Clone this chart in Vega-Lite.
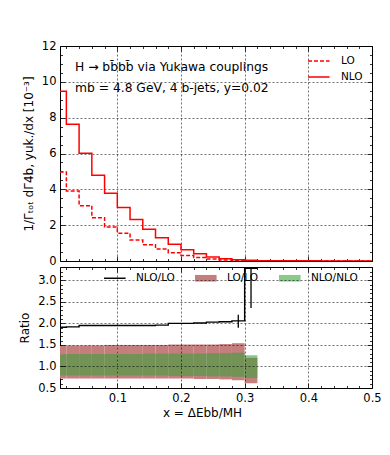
{
  "$schema": "https://vega.github.io/schema/vega-lite/v6.json",
  "padding": {"left": 18, "top": 39, "right": 12, "bottom": 5},
  "bounds": "flush",
  "resolve": {"legend": {"color": "independent", "strokeDash": "independent", "fill": "independent", "shape": "independent"}},
  "config": {
    "font": "DejaVu Sans",
    "view": {"stroke": "black", "strokeWidth": 1},
    "axis": {"domain": false, "tickColor": "black", "labelColor": "black", "titleColor": "black", "labelFont": "DejaVu Sans", "titleFont": "DejaVu Sans", "labelFontSize": 11.5, "titleFontSize": 12, "titleFontWeight": "normal", "gridColor": "black", "gridDash": [2, 2], "gridWidth": 0.7, "gridOpacity": 0.8, "tickWidth": 0.8, "labelFlush": false, "labelOverlap": false, "labelBound": false},
    "legend": {"labelFont": "DejaVu Sans", "labelColor": "black"}
  },
  "datasets": {
    "spectra": [
      {"edge": 0.00, "LO": 4.97, "NLO": 9.47},
      {"edge": 0.02, "LO": 3.91, "NLO": 7.63},
      {"edge": 0.04, "LO": 3.09, "NLO": 6.01},
      {"edge": 0.06, "LO": 2.42, "NLO": 4.78},
      {"edge": 0.08, "LO": 1.90, "NLO": 3.78},
      {"edge": 0.10, "LO": 1.55, "NLO": 2.98},
      {"edge": 0.12, "LO": 1.17, "NLO": 2.31},
      {"edge": 0.14, "LO": 0.91, "NLO": 1.77},
      {"edge": 0.16, "LO": 0.67, "NLO": 1.30},
      {"edge": 0.18, "LO": 0.46, "NLO": 0.93},
      {"edge": 0.20, "LO": 0.31, "NLO": 0.63},
      {"edge": 0.22, "LO": 0.20, "NLO": 0.41},
      {"edge": 0.24, "LO": 0.11, "NLO": 0.22},
      {"edge": 0.26, "LO": 0.06, "NLO": 0.12},
      {"edge": 0.28, "LO": 0.035, "NLO": 0.07},
      {"edge": 0.30, "LO": 0.01, "NLO": 0.035},
      {"edge": 0.32, "LO": 0.0, "NLO": 0.02},
      {"edge": 0.34, "LO": 0.0, "NLO": 0.015},
      {"edge": 0.36, "LO": 0.0, "NLO": 0.01},
      {"edge": 0.38, "LO": 0.0, "NLO": 0.01},
      {"edge": 0.40, "LO": 0.0, "NLO": 0.008},
      {"edge": 0.42, "LO": 0.0, "NLO": 0.006},
      {"edge": 0.44, "LO": 0.0, "NLO": 0.005},
      {"edge": 0.46, "LO": 0.0, "NLO": 0.004},
      {"edge": 0.48, "LO": 0.0, "NLO": 0.003},
      {"edge": 0.50, "LO": 0.0, "NLO": 0.003}
    ],
    "ratio": [
      {"edge": 0.00, "r": 1.91},
      {"edge": 0.02, "r": 1.92},
      {"edge": 0.04, "r": 1.95},
      {"edge": 0.06, "r": 1.95},
      {"edge": 0.08, "r": 1.95},
      {"edge": 0.10, "r": 1.95},
      {"edge": 0.12, "r": 1.95},
      {"edge": 0.14, "r": 1.95},
      {"edge": 0.16, "r": 1.96},
      {"edge": 0.18, "r": 2.00},
      {"edge": 0.20, "r": 2.00},
      {"edge": 0.22, "r": 2.01},
      {"edge": 0.24, "r": 2.03},
      {"edge": 0.26, "r": 2.04},
      {"edge": 0.28, "r": 2.06},
      {"edge": 0.30, "r": 3.28},
      {"edge": 0.32, "r": 3.28}
    ],
    "lolo": [
      {"x0": 0.00, "x1": 0.02, "lo": 0.72, "hi": 1.48, "series": "LO/LO"},
      {"x0": 0.02, "x1": 0.04, "lo": 0.72, "hi": 1.49, "series": "LO/LO"},
      {"x0": 0.04, "x1": 0.06, "lo": 0.72, "hi": 1.49, "series": "LO/LO"},
      {"x0": 0.06, "x1": 0.08, "lo": 0.72, "hi": 1.49, "series": "LO/LO"},
      {"x0": 0.08, "x1": 0.10, "lo": 0.72, "hi": 1.50, "series": "LO/LO"},
      {"x0": 0.10, "x1": 0.12, "lo": 0.72, "hi": 1.50, "series": "LO/LO"},
      {"x0": 0.12, "x1": 0.14, "lo": 0.72, "hi": 1.50, "series": "LO/LO"},
      {"x0": 0.14, "x1": 0.16, "lo": 0.72, "hi": 1.50, "series": "LO/LO"},
      {"x0": 0.16, "x1": 0.18, "lo": 0.72, "hi": 1.50, "series": "LO/LO"},
      {"x0": 0.18, "x1": 0.20, "lo": 0.72, "hi": 1.51, "series": "LO/LO"},
      {"x0": 0.20, "x1": 0.22, "lo": 0.72, "hi": 1.51, "series": "LO/LO"},
      {"x0": 0.22, "x1": 0.24, "lo": 0.71, "hi": 1.51, "series": "LO/LO"},
      {"x0": 0.24, "x1": 0.26, "lo": 0.71, "hi": 1.51, "series": "LO/LO"},
      {"x0": 0.26, "x1": 0.28, "lo": 0.70, "hi": 1.52, "series": "LO/LO"},
      {"x0": 0.28, "x1": 0.30, "lo": 0.68, "hi": 1.54, "series": "LO/LO"},
      {"x0": 0.30, "x1": 0.32, "lo": 0.61, "hi": 1.20, "series": "LO/LO"}
    ],
    "nlonlo": [
      {"x0": 0.00, "x1": 0.02, "lo": 0.79, "hi": 1.28, "series": "NLO/NLO"},
      {"x0": 0.02, "x1": 0.04, "lo": 0.79, "hi": 1.29, "series": "NLO/NLO"},
      {"x0": 0.04, "x1": 0.06, "lo": 0.79, "hi": 1.29, "series": "NLO/NLO"},
      {"x0": 0.06, "x1": 0.08, "lo": 0.79, "hi": 1.29, "series": "NLO/NLO"},
      {"x0": 0.08, "x1": 0.10, "lo": 0.79, "hi": 1.29, "series": "NLO/NLO"},
      {"x0": 0.10, "x1": 0.12, "lo": 0.79, "hi": 1.29, "series": "NLO/NLO"},
      {"x0": 0.12, "x1": 0.14, "lo": 0.79, "hi": 1.29, "series": "NLO/NLO"},
      {"x0": 0.14, "x1": 0.16, "lo": 0.79, "hi": 1.30, "series": "NLO/NLO"},
      {"x0": 0.16, "x1": 0.18, "lo": 0.79, "hi": 1.30, "series": "NLO/NLO"},
      {"x0": 0.18, "x1": 0.20, "lo": 0.78, "hi": 1.30, "series": "NLO/NLO"},
      {"x0": 0.20, "x1": 0.22, "lo": 0.78, "hi": 1.30, "series": "NLO/NLO"},
      {"x0": 0.22, "x1": 0.24, "lo": 0.78, "hi": 1.30, "series": "NLO/NLO"},
      {"x0": 0.24, "x1": 0.26, "lo": 0.77, "hi": 1.31, "series": "NLO/NLO"},
      {"x0": 0.26, "x1": 0.28, "lo": 0.77, "hi": 1.31, "series": "NLO/NLO"},
      {"x0": 0.28, "x1": 0.30, "lo": 0.76, "hi": 1.32, "series": "NLO/NLO"},
      {"x0": 0.30, "x1": 0.32, "lo": 0.73, "hi": 1.26, "series": "NLO/NLO"}
    ],
    "errs": [
      {"xc": 0.29, "lo": 1.90, "hi": 2.20},
      {"xc": 0.31, "lo": 2.36, "hi": 4.20}
    ]
  },
  "vconcat": [
    {
      "width": 312,
      "height": 215,
      "title": {"text": "H → bb̄bb̄ via Yukawa couplings", "subtitle": "mb = 4.8 GeV,  4 b-jets, y=0.02", "anchor": "start", "frame": "group", "orient": "top", "offset": -54, "dx": 15, "fontSize": 12.3, "fontWeight": "normal", "color": "black", "subtitleFontSize": 12.3, "subtitleColor": "black", "subtitlePadding": 8, "font": "DejaVu Sans", "subtitleFont": "DejaVu Sans"},
      "data": {"name": "spectra"},
      "transform": [{"fold": ["LO", "NLO"], "as": ["order", "val"]}],
      "resolve": {"axis": {"x": "independent", "y": "independent"}},
      "layer": [
        {
          "mark": {"type": "line", "interpolate": "step-after", "color": "red", "strokeWidth": 1.5, "clip": true},
          "encoding": {
            "x": {"field": "edge", "type": "quantitative", "scale": {"domain": [0.01, 0.5], "nice": false, "zero": false},
                  "axis": {"orient": "bottom", "values": [0.1, 0.2, 0.3, 0.4, 0.5], "labels": false, "tickSize": -5, "grid": true, "title": null}},
            "y": {"field": "val", "type": "quantitative", "scale": {"domain": [0, 12], "nice": false},
                  "axis": {"orient": "left", "values": [0, 2, 4, 6, 8, 10, 12], "tickSize": -5, "labelPadding": 9, "grid": true, "title": "1/Γₜₒₜ dΓ4b, yuk./dx [10⁻³]", "titlePadding": 6}},
            "strokeDash": {"field": "order", "type": "nominal", "scale": {"domain": ["LO", "NLO"], "range": [[4, 2], [1, 0]]},
                  "legend": {"orient": "none", "legendX": 247, "legendY": 8, "direction": "vertical", "title": null, "symbolType": "M-1,0H2.6", "symbolSize": 144, "symbolStrokeColor": "red", "symbolFillColor": "transparent", "symbolStrokeWidth": 1.5, "labelFontSize": 10.5, "labelOffset": 20, "rowPadding": 3, "padding": 0}}
          }
        },
        {
          "mark": {"type": "point", "opacity": 0},
          "encoding": {
            "x": {"field": "edge", "type": "quantitative", "axis": {"orient": "bottom", "values": [0.02, 0.04, 0.06, 0.08, 0.12, 0.14, 0.16, 0.18, 0.22, 0.24, 0.26, 0.28, 0.32, 0.34, 0.36, 0.38, 0.42, 0.44, 0.46, 0.48], "labels": false, "tickSize": -2.5, "grid": false, "title": null}},
            "y": {"field": "val", "type": "quantitative", "axis": {"orient": "left", "values": [0.5, 1, 1.5, 2.5, 3, 3.5, 4.5, 5, 5.5, 6.5, 7, 7.5, 8.5, 9, 9.5, 10.5, 11, 11.5], "labels": false, "tickSize": -2.5, "grid": false, "title": null}}
          }
        },
        {
          "mark": {"type": "point", "opacity": 0},
          "encoding": {
            "x": {"field": "edge", "type": "quantitative", "axis": {"orient": "top", "values": [0.1, 0.2, 0.3, 0.4, 0.5], "labels": false, "tickSize": -5, "grid": false, "title": null}},
            "y": {"field": "val", "type": "quantitative", "axis": {"orient": "right", "values": [0, 2, 4, 6, 8, 10, 12], "labels": false, "tickSize": -5, "grid": false, "title": null}}
          }
        },
        {
          "mark": {"type": "point", "opacity": 0},
          "encoding": {
            "x": {"field": "edge", "type": "quantitative", "axis": {"orient": "top", "values": [0.02, 0.04, 0.06, 0.08, 0.12, 0.14, 0.16, 0.18, 0.22, 0.24, 0.26, 0.28, 0.32, 0.34, 0.36, 0.38, 0.42, 0.44, 0.46, 0.48], "labels": false, "tickSize": -2.5, "grid": false, "title": null}},
            "y": {"field": "val", "type": "quantitative", "axis": {"orient": "right", "values": [0.5, 1, 1.5, 2.5, 3, 3.5, 4.5, 5, 5.5, 6.5, 7, 7.5, 8.5, 9, 9.5, 10.5, 11, 11.5], "labels": false, "tickSize": -2.5, "grid": false, "title": null}}
          }
        }
      ]
    },
    {
      "width": 312,
      "height": 121,
      "resolve": {"axis": {"x": "independent", "y": "independent"}},
      "layer": [
        {
          "data": {"name": "lolo"},
          "mark": {"type": "rect", "clip": true, "opacity": 1},
          "encoding": {
            "x": {"field": "x0", "type": "quantitative", "scale": {"domain": [0.01, 0.5], "nice": false, "zero": false},
                  "axis": {"orient": "bottom", "values": [0.1, 0.2, 0.3, 0.4, 0.5], "tickSize": -5, "labelPadding": 9, "grid": true, "zindex": 1, "title": "x = ΔEbb/MH", "titlePadding": 4, "titleX": 142, "titleAlign": "center"}},
            "x2": {"field": "x1"},
            "y": {"field": "lo", "type": "quantitative", "scale": {"domain": [0.5, 3.31], "nice": false, "zero": false},
                  "axis": {"orient": "left", "values": [0.5, 1.0, 1.5, 2.0, 2.5, 3.0], "format": ".1f", "tickSize": -5, "labelPadding": 9, "grid": true, "zindex": 1, "title": "Ratio", "titlePadding": 6}},
            "y2": {"field": "hi"},
            "color": {"field": "series", "type": "nominal", "scale": {"domain": ["LO/LO", "NLO/NLO", "NLO/LO"], "range": ["#c47e7e", "#3ca03c", "#000000"]}, "legend": null}
          }
        },
        {
          "data": {"name": "nlonlo"},
          "mark": {"type": "rect", "clip": true, "opacity": 0.6},
          "encoding": {
            "x": {"field": "x0", "type": "quantitative", "axis": {"orient": "bottom", "values": [0.02, 0.04, 0.06, 0.08, 0.12, 0.14, 0.16, 0.18, 0.22, 0.24, 0.26, 0.28, 0.32, 0.34, 0.36, 0.38, 0.42, 0.44, 0.46, 0.48], "labels": false, "tickSize": -2.5, "grid": false, "title": null}},
            "x2": {"field": "x1"},
            "y": {"field": "lo", "type": "quantitative", "axis": {"orient": "left", "values": [0.6, 0.7, 0.8, 0.9, 1.1, 1.2, 1.3, 1.4, 1.6, 1.7, 1.8, 1.9, 2.1, 2.2, 2.3, 2.4, 2.6, 2.7, 2.8, 2.9, 3.1, 3.2, 3.3], "labels": false, "tickSize": -2.5, "grid": false, "title": null}},
            "y2": {"field": "hi"},
            "color": {"field": "series", "type": "nominal", "scale": {"domain": ["LO/LO", "NLO/NLO", "NLO/LO"], "range": ["#c47e7e", "#3ca03c", "#000000"]}, "legend": null}
          }
        },
        {
          "data": {"name": "ratio"},
          "mark": {"type": "line", "interpolate": "step-after", "strokeWidth": 1.4, "clip": true},
          "encoding": {
            "x": {"field": "edge", "type": "quantitative", "axis": {"orient": "top", "values": [0.1, 0.2, 0.3, 0.4, 0.5], "labels": false, "tickSize": -5, "grid": false, "title": null}},
            "y": {"field": "r", "type": "quantitative", "axis": {"orient": "right", "values": [0.5, 1.0, 1.5, 2.0, 2.5, 3.0], "labels": false, "tickSize": -5, "grid": false, "title": null}},
            "color": {"datum": "NLO/LO", "type": "nominal", "scale": {"domain": ["LO/LO", "NLO/NLO", "NLO/LO"], "range": ["#c47e7e", "#3ca03c", "#000000"]}, "legend": null}
          }
        },
        {
          "data": {"name": "errs"},
          "mark": {"type": "rule", "color": "black", "strokeWidth": 1.3, "clip": true},
          "encoding": {
            "x": {"field": "xc", "type": "quantitative", "axis": {"orient": "top", "values": [0.02, 0.04, 0.06, 0.08, 0.12, 0.14, 0.16, 0.18, 0.22, 0.24, 0.26, 0.28, 0.32, 0.34, 0.36, 0.38, 0.42, 0.44, 0.46, 0.48], "labels": false, "tickSize": -2.5, "grid": false, "title": null}},
            "y": {"field": "lo", "type": "quantitative", "axis": {"orient": "right", "values": [0.6, 0.7, 0.8, 0.9, 1.1, 1.2, 1.3, 1.4, 1.6, 1.7, 1.8, 1.9, 2.1, 2.2, 2.3, 2.4, 2.6, 2.7, 2.8, 2.9, 3.1, 3.2, 3.3], "labels": false, "tickSize": -2.5, "grid": false, "title": null}},
            "y2": {"field": "hi"}
          }
        },
        {
          "data": {"name": "lolo"},
          "mark": {"type": "point", "opacity": 0, "filled": true},
          "encoding": {
            "x": {"field": "x0", "type": "quantitative", "axis": null},
            "y": {"field": "lo", "type": "quantitative", "axis": null},
            "fill": {"field": "series", "type": "nominal", "scale": {"domain": ["NLO/LO", "LO/LO", "NLO/NLO"], "range": ["#000000", "#c47e7e", "#8cca8c"]},
                     "legend": {"orient": "none", "legendX": 44, "legendY": 5, "direction": "horizontal", "columns": 3, "title": null, "symbolSize": 144, "symbolOpacity": 1, "symbolStrokeWidth": 0, "labelFontSize": 10.5, "labelOffset": 20, "columnPadding": 20, "padding": 0}},
            "shape": {"field": "series", "type": "nominal", "scale": {"domain": ["NLO/LO", "LO/LO", "NLO/NLO"], "range": ["M-1,-0.12H2.6V0.12H-1Z", "M-1,-0.55H2.6V0.55H-1Z", "M-1,-0.55H2.6V0.55H-1Z"]},
                     "legend": {"orient": "none", "legendX": 44, "legendY": 5, "direction": "horizontal", "columns": 3, "title": null, "symbolSize": 144, "symbolOpacity": 1, "symbolStrokeWidth": 0, "labelFontSize": 10.5, "labelOffset": 20, "columnPadding": 20, "padding": 0}}
          }
        }
      ]
    }
  ],
  "spacing": 6
}
